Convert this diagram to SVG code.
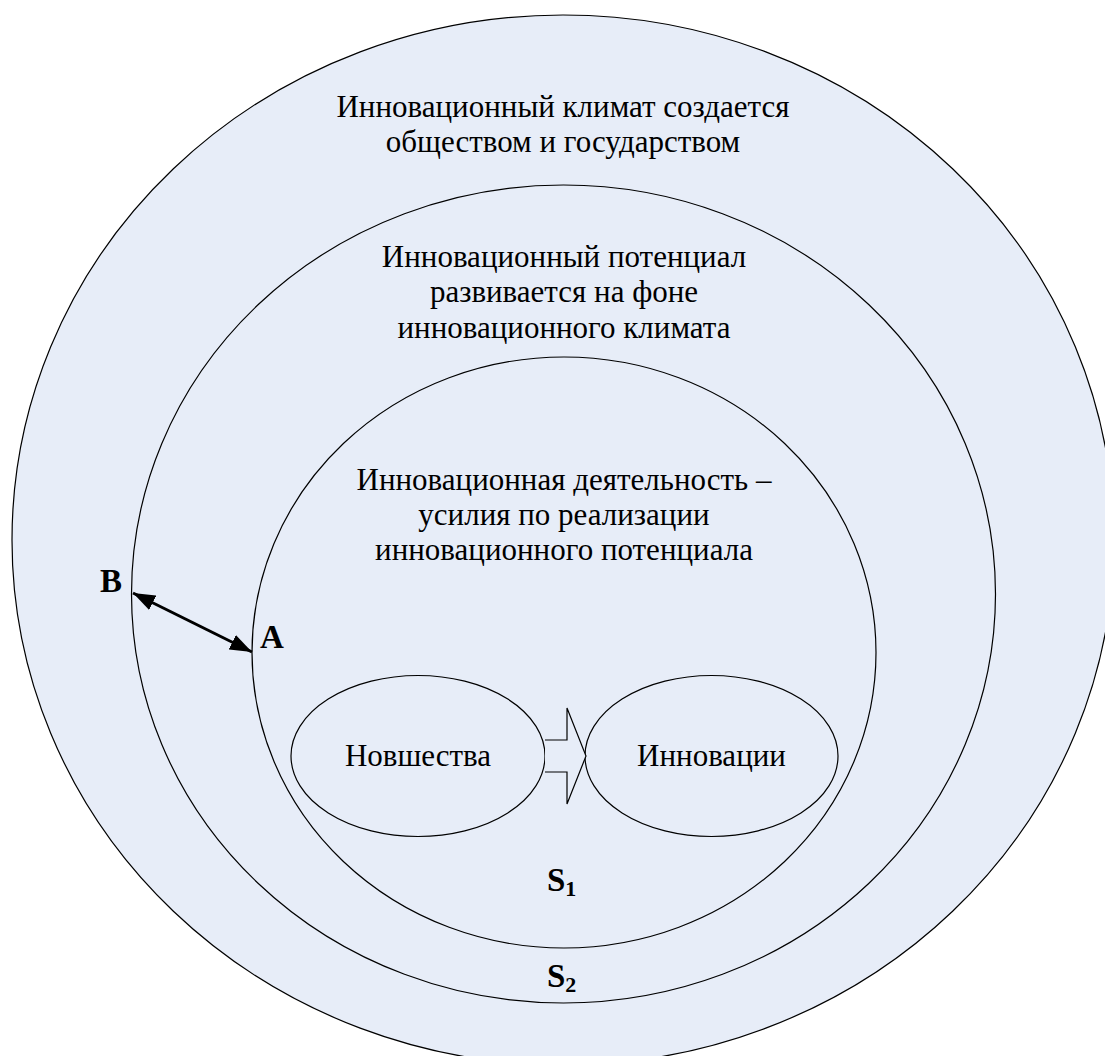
<svg xmlns="http://www.w3.org/2000/svg" width="1105" height="1056" viewBox="0 0 1105 1056">
<defs>
<style>
.area{fill:#E7EDF8;stroke:#000;stroke-width:1.2}
.t{font-family:"Liberation Serif","DejaVu Serif",serif;font-size:31px;fill:#000;text-anchor:middle}
.lbl{font-family:"Liberation Serif","DejaVu Serif",serif;font-size:33px;font-weight:bold;fill:#000}
.sub{font-size:22px}
</style>
<marker id="ah" viewBox="0 0 22 16" markerWidth="22" markerHeight="16" refX="22" refY="8" orient="auto-start-reverse" markerUnits="userSpaceOnUse">
<path d="M0,0 L22,8 L0,16 z" fill="#000"/>
</marker>
</defs>
<rect width="1105" height="1056" fill="#fff"/>
<g id="climate">
<ellipse class="area" cx="563" cy="540" rx="551" ry="525"/>
<text class="t" x="563" y="117">Инновационный климат создается</text>
<text class="t" x="563" y="152">обществом и государством</text>
</g>
<g id="potential">
<ellipse class="area" cx="563.5" cy="594" rx="432" ry="409"/>
<text class="t" x="564" y="267">Инновационный потенциал</text>
<text class="t" x="564" y="302">развивается на фоне</text>
<text class="t" x="564" y="338">инновационного климата</text>
<text class="lbl" x="547" y="987">S<tspan class="sub" dy="5">2</tspan></text>
</g>
<g id="activity">
<ellipse class="area" cx="564" cy="652.5" rx="312" ry="295.5"/>
<text class="t" x="564" y="490">Инновационная деятельность –</text>
<text class="t" x="564" y="525">усилия по реализации</text>
<text class="t" x="564" y="560">инновационного потенциала</text>
<text class="lbl" x="547" y="891">S<tspan class="sub" dy="5">1</tspan></text>
</g>
<g id="novelties">
<ellipse class="area" cx="418" cy="756" rx="127" ry="80.5"/>
<text class="t" x="418" y="766">Новшества</text>
</g>
<g id="innovations">
<ellipse class="area" cx="711.5" cy="756" rx="126.5" ry="80.5"/>
<text class="t" x="711.5" y="766">Инновации</text>
</g>
<g id="connectors">
<path d="M545,740 L567,740 L567,708 L586,756 L567,804 L567,772 L545,772" fill="#E7EDF8" stroke="#000" stroke-width="1.2"/>
<line x1="133" y1="593" x2="252" y2="652" stroke="#000" stroke-width="3" marker-start="url(#ah)" marker-end="url(#ah)"/>
</g>
<g id="labels">
<text class="lbl" x="100" y="592">B</text>
<text class="lbl" x="260" y="648">A</text>
</g>
</svg>
